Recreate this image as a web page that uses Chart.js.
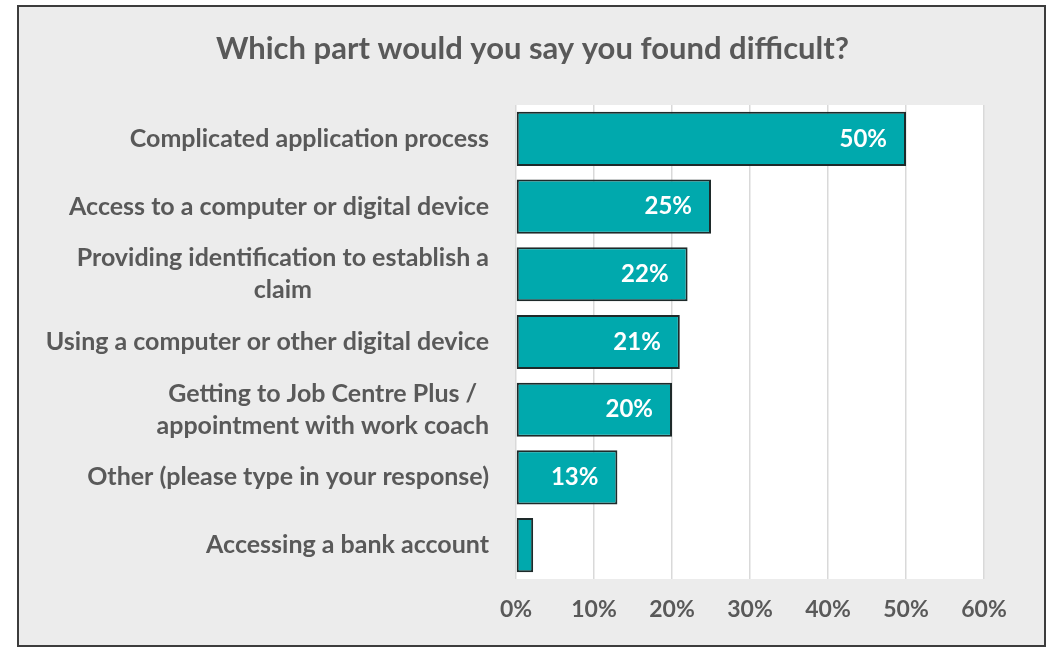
<!DOCTYPE html>
<html>
<head>
<meta charset="utf-8">
<script src="https://cdn.jsdelivr.net/npm/chart.js@4"></script>
<style>
  body { margin: 0; background: #ffffff; }
  #box {
    position: absolute; left: 17px; top: 5px;
    width: 1029px; height: 642px;
    box-sizing: border-box;
    border: 2px solid #3c3c3c;
    background: #ececec;
  }
  #box canvas { display: block; }
</style>
</head>
<body>
<div id="box"><canvas id="myChart" width="1025" height="638"></canvas></div>
<script>
var chartTitle = 'Which part would you say you found difficult?';
var categories = [
  ['Complicated application process'],
  ['Access to a computer or digital device'],
  ['Providing identification to establish a', 'claim'],
  ['Using a computer or other digital device'],
  ['Getting to Job Centre Plus /', 'appointment with work coach'],
  ['Other (please type in your response)'],
  ['Accessing a bank account']
];
var values = [50, 25, 22, 21, 20, 13, 2.2];
var valueLabels = ['50%', '25%', '22%', '21%', '20%', '13%', null];
var tickLabels = ['0%', '10%', '20%', '30%', '40%', '50%', '60%'];

var FONT = 'Lato, "Open Sans", sans-serif';
var GREY = '#595959';

// title centred on the whole canvas, not just the padded box
var titlePlugin = {
  id: 'titleText',
  afterDraw: function(chart) {
    var ctx = chart.ctx;
    ctx.save();
    ctx.font = 'bold 31px ' + FONT;
    ctx.fillStyle = GREY;
    ctx.textAlign = 'center';
    ctx.textBaseline = 'middle';
    ctx.fillText(chartTitle, chart.width / 2 + 1, 42);
    ctx.restore();
  }
};

// category names: right aligned block, lines centred inside it (Excel style)
var catLabels = {
  id: 'catLabels',
  afterDraw: function(chart) {
    var ctx = chart.ctx;
    var ys = chart.scales.y;
    var right = chart.chartArea.left - 27;
    ctx.save();
    ctx.font = 'bold 25px ' + FONT;
    ctx.fillStyle = GREY;
    ctx.textAlign = 'center';
    ctx.textBaseline = 'middle';
    var lh = 32;
    categories.forEach(function(lines, i) {
      var w = 0;
      lines.forEach(function(l) { w = Math.max(w, ctx.measureText(l.trim()).width); });
      var cx = right - w / 2;
      var y0 = ys.getPixelForValue(i) - (lines.length - 1) * lh / 2;
      lines.forEach(function(l, j) {
        ctx.fillText(l, cx, y0 + j * lh);
      });
    });
    ctx.restore();
  }
};

// value labels inside the bar end
var barLabels = {
  id: 'barLabels',
  afterDatasetsDraw: function(chart) {
    var ctx = chart.ctx;
    var meta = chart.getDatasetMeta(0);
    ctx.save();
    ctx.font = 'bold 24px ' + FONT;
    ctx.fillStyle = '#ffffff';
    ctx.textAlign = 'right';
    ctx.textBaseline = 'middle';
    meta.data.forEach(function(bar, i) {
      if (!valueLabels[i]) return;
      ctx.fillText(valueLabels[i], bar.x - 19, bar.y);
    });
    ctx.restore();
  }
};

var plotBg = {
  id: 'plotBg',
  beforeDraw: function(chart) {
    var a = chart.chartArea;
    chart.ctx.save();
    chart.ctx.fillStyle = '#ffffff';
    chart.ctx.fillRect(a.left, a.top, a.right - a.left, a.bottom - a.top);
    chart.ctx.restore();
  }
};

var ctx = document.getElementById('myChart').getContext('2d');
var myChart = new Chart(ctx, {
  type: 'bar',
  data: {
    labels: categories,
    datasets: [{
      data: values,
      backgroundColor: '#00a9ad',
      borderColor: '#1e2a2a',
      borderWidth: 2,
      borderSkipped: false,
      barPercentage: 0.8,
      categoryPercentage: 1.0
    }]
  },
  options: {
    indexAxis: 'y',
    responsive: false,
    animation: false,
    layout: { padding: { left: 0, right: 60, top: 98, bottom: 0 } },
    plugins: {
      legend: { display: false },
      tooltip: { enabled: false },
      title: { display: false }
    },
    scales: {
      x: {
        min: 0,
        max: 60,
        ticks: {
          stepSize: 10,
          color: GREY,
          padding: 17,
          font: { family: FONT, size: 23, weight: 'bold' },
          callback: function(v, i) { return tickLabels[i]; }
        },
        grid: { color: '#d9d9d9', lineWidth: 1.5, drawTicks: false },
        border: { display: false },
        afterFit: function(s) { s.height = 66; }
      },
      y: {
        ticks: { display: false },
        grid: { display: false },
        border: { display: false },
        afterFit: function(s) { s.width = 497; }
      }
    }
  },
  plugins: [plotBg, titlePlugin, catLabels, barLabels]
});
</script>
</body>
</html>
